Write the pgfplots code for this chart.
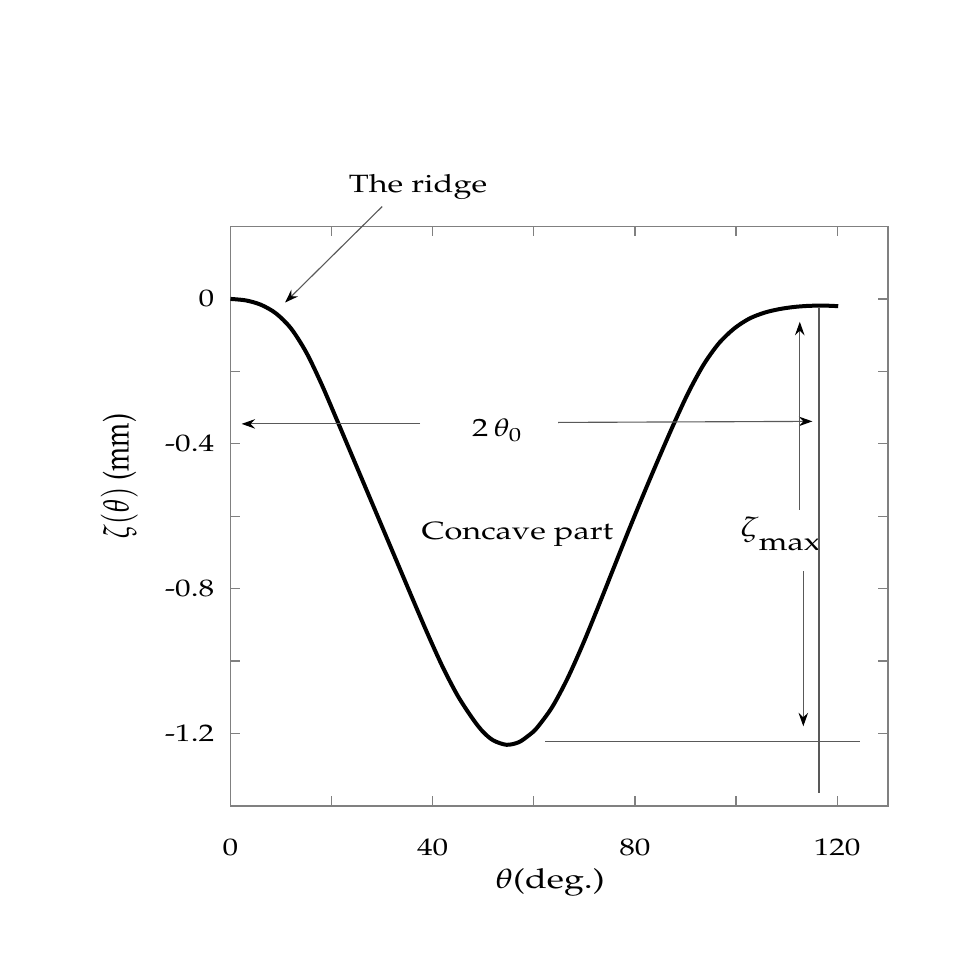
\documentclass[border=0pt]{standalone}
\usepackage[T1]{fontenc}
\usepackage{mathpazo}
\usepackage{graphicx}
\usepackage{pgfplots}
\pgfplotsset{compat=1.18}
\usetikzlibrary{arrows.meta}
\newcommand{\wide}[1]{\scalebox{1.3}[1]{#1}}
\newcommand{\tall}[1]{\scalebox{1}[1.3]{#1}}
\tikzset{
  ann/.style={draw=black!65, line width=0.45pt},
  arr/.style={ann, -{Stealth[length=5.4pt,width=3.8pt,inset=1.8pt,color=black]}},
}
\begin{document}
\begin{tikzpicture}[x=1pt,y=1pt]
\useasboundingbox (-92.2,-68.4) rectangle (298.6,322.4);
\begin{axis}[
  at={(0pt,0pt)}, anchor=south west,
  width=262.9pt, height=231.8pt, scale only axis,
  xmin=0, xmax=130, ymin=-1.4, ymax=0.2,
  xtick={0,20,40,60,80,100,120},
  xticklabels={\wide{0},,\wide{40},,\wide{80},,\wide{120}},
  ytick={-1.4,-1.2,-1.0,-0.8,-0.6,-0.4,-0.2,0,0.2},
  yticklabels={,\wide{-1.2},,\wide{-0.8},,\wide{-0.4},,\wide{0},},
  tick align=inside, major tick length=4pt,
  xtick pos=both, ytick pos=both,
  axis line style={black!50, line width=0.6pt},
  tick style={black!50, line width=0.5pt},
  ticklabel style={font=\fontsize{9.6}{11.5}\selectfont},
  xticklabel style={anchor=base, yshift=-19.6pt},
  yticklabel style={anchor=east, xshift=-3pt},
  clip=false,
]
\addplot[black, line width=1.6pt, smooth] table {
0 0
3 -0.004
6 -0.016
9 -0.040
12 -0.082
15 -0.148
18 -0.235
21 -0.3325
24 -0.4315
27 -0.5305
30 -0.6295
33 -0.7285
36 -0.8275
39 -0.925
42 -1.017
45 -1.097
48 -1.161
50 -1.196
52 -1.219
54.6 -1.231
57 -1.224
59 -1.205
60.6 -1.1845
63.6 -1.1275
66.6 -1.0495
69.6 -0.9565
72.6 -0.8545
75.6 -0.7495
78.6 -0.6445
81.6 -0.5425
84.6 -0.4435
87.6 -0.3475
90.6 -0.2575
93.6 -0.181
96.6 -0.1225
99.6 -0.082
102.6 -0.0545
105.6 -0.038
108.6 -0.028
111.6 -0.022
114.6 -0.019
117.6 -0.0185
120.2 -0.020
};
% annotations
\draw[arr] (30.0,0.255) -- (10.8,-0.010);
\node[anchor=base, font=\fontsize{10}{12}\selectfont] at (37.1,0.294) {\wide{The ridge}};
\draw[arr] (37.5,-0.345) -- (2.2,-0.345);
\draw[arr] (64.8,-0.341) -- (115.1,-0.338);
\node[anchor=base, font=\fontsize{10}{12}\selectfont] at (52.8,-0.381) {\wide{$2\,\theta_0$}};
\node[anchor=base, font=\fontsize{10}{12}\selectfont] at (56.75,-0.665) {\wide{Concave part}};
\node[anchor=base, font=\fontsize{10}{12}\selectfont] at (108.8,-0.657) {\wide{{\fontsize{11}{13}\selectfont$\zeta$}\raisebox{-5.5pt}{max}}};
\draw[arr] (112.6,-0.582) -- (112.6,-0.063);
\draw[arr] (113.3,-0.752) -- (113.3,-1.180);
\draw[ann] (116.4,-0.026) -- (116.4,-1.365);
\draw[ann] (62.3,-1.221) -- (124.5,-1.221);
% axis labels
\node[rotate=90, font=\fontsize{11}{13}\selectfont] at (-22.0,-0.490) {\tall{$\zeta(\theta)$ (mm)}};
\node[anchor=base, font=\fontsize{11}{13}\selectfont] at (63.2,-1.628) {\wide{$\theta$(deg.)}};
\end{axis}
\end{tikzpicture}
\end{document}
